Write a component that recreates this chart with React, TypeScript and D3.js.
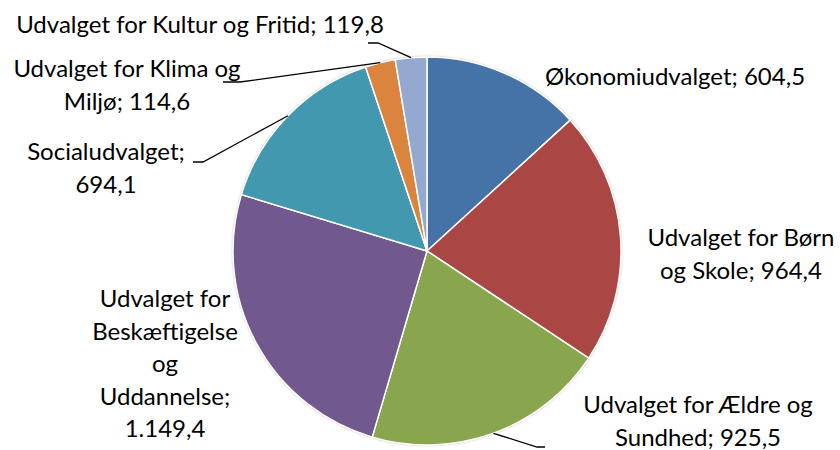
import React, { useRef, useEffect } from 'react';
import * as d3 from 'd3';

const categories = [
  'Økonomiudvalget',
  'Udvalget for Børn og Skole',
  'Udvalget for Ældre og Sundhed',
  'Udvalget for Beskæftigelse og Uddannelse',
  'Socialudvalget',
  'Udvalget for Klima og Miljø',
  'Udvalget for Kultur og Fritid'
];
const values = [604.5, 964.4, 925.5, 1149.4, 694.1, 114.6, 119.8];
const valueLabels = ['604,5', '964,4', '925,5', '1.149,4', '694,1', '114,6', '119,8'];
const colors = ['#4572A7', '#AA4643', '#89A54E', '#71588F', '#4198AF', '#DB843D', '#93A9CF'];

// label lines as they wrap in the chart
const labelLines = [
  ['Økonomiudvalget; 604,5'],
  ['Udvalget for Børn', 'og Skole; 964,4'],
  ['Udvalget for Ældre og', 'Sundhed; 925,5'],
  ['Udvalget for', 'Beskæftigelse', 'og', 'Uddannelse;', '1.149,4'],
  ['Socialudvalget;', '694,1'],
  ['Udvalget for Klima og', 'Miljø; 114,6'],
  ['Udvalget for Kultur og Fritid; 119,8']
];

// layout: label centre x, first baseline y, optional leader elbow (x, y, end x)
const labelLayout = [
  { x: 675, y: 85 },
  { x: 741, y: 246 },
  { x: 698, y: 413, leader: [537, 447, 545] },
  { x: 165, y: 307 },
  { x: 106, y: 160, leader: [203, 162, 193] },
  { x: 127, y: 77, leader: [240, 82, 223] },
  { x: 200, y: 33, leader: [378, 43, 368] }
];

const App = () => {
  const ref = useRef(null);

  useEffect(() => {
    const svg = d3.select(ref.current);
    svg.selectAll('*').remove();
    const cx = 427;
    const cy = 251;
    const radius = 194;
    const lineHeight = 32.5;

    const defs = svg.append('defs');
    const filter = defs.append('filter').attr('id', 'shadow')
      .attr('x', '-10%').attr('y', '-10%').attr('width', '120%').attr('height', '120%');
    filter.append('feDropShadow')
      .attr('dx', 0).attr('dy', 0).attr('stdDeviation', 1.5)
      .attr('flood-color', '#000').attr('flood-opacity', 0.35);

    const pie = d3.pie<number>().sort(null).value(d => d);
    const arcs = pie(values);
    const arc = d3.arc<d3.PieArcDatum<number>>().innerRadius(0).outerRadius(radius);

    const g = svg.append('g').attr('transform', `translate(${cx},${cy})`);

    g.append('circle').attr('r', radius).attr('fill', '#fff').attr('filter', 'url(#shadow)');

    g.selectAll('path.slice')
      .data(arcs)
      .enter().append('path')
      .attr('class', 'slice')
      .attr('d', arc)
      .attr('fill', (d, i) => colors[i])
      .attr('stroke', '#fff')
      .attr('stroke-width', 1.5)
      .attr('stroke-linejoin', 'round');

    // leader lines
    arcs.forEach((d, i) => {
      const lay = labelLayout[i];
      if (!lay.leader) return;
      const a = (d.startAngle + d.endAngle) / 2;
      const px = cx + radius * Math.sin(a);
      const py = cy - radius * Math.cos(a);
      const [ex, ey, hx] = lay.leader;
      svg.append('path')
        .attr('d', `M${px},${py}L${ex},${ey}L${hx},${ey}`)
        .attr('fill', 'none')
        .attr('stroke', '#000')
        .attr('stroke-width', 1.3);
    });

    labelLines.forEach((lines, i) => {
      const lay = labelLayout[i];
      const t = svg.append('text')
        .attr('text-anchor', 'middle')
        .attr('font-family', 'Lato, "Open Sans", sans-serif')
        .attr('font-size', 24)
        .attr('fill', '#000');
      lines.forEach((line, j) => {
        t.append('tspan').attr('x', lay.x).attr('y', lay.y + j * lineHeight).text(line);
      });
      t.append('title').text(`${categories[i]}; ${valueLabels[i]}`);
    });
  }, []);

  return (
    <svg ref={ref} width="840" height="450"
      style={{ position: 'absolute', left: 0, top: 0, background: '#fff' }}></svg>
  );
};

export default App;
